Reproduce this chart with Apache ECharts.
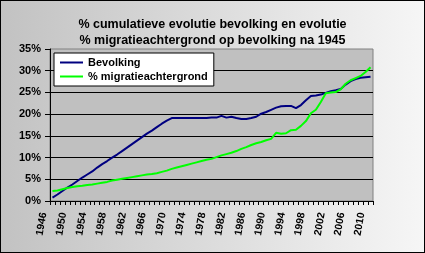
<!DOCTYPE html>
<html><head><meta charset="utf-8">
<script src="https://cdn.jsdelivr.net/npm/echarts@6/dist/echarts.min.js"></script>
<style>
html,body{margin:0;padding:0;}
#wrap{position:relative;width:425px;height:253px;background:linear-gradient(to right,#c2c2c2,#f6f6f6);}
#c{position:absolute;left:0;top:0;width:425px;height:253px;}
#bd{position:absolute;left:0;top:0;width:425px;height:253px;box-sizing:border-box;border:1px solid #000;pointer-events:none;}
</style></head><body>
<div id="wrap"><div id="c"></div><div id="bd"></div></div>
<script>
const titleText = '% cumulatieve evolutie bevolking en evolutie\n% migratieachtergrond op bevolking na 1945';
const years = [];
for (let y = 1946; y <= 2010; y++) years.push(String(y));
const seriesNames = ['Bevolking', '% migratieachtergrond'];
const bevolking = [
  0.8, 1.5, 2.3, 3.1, 3.8, 4.6, 5.4, 6.1, 6.8, 7.7,
  8.5, 9.2, 10.0, 10.7, 11.5, 12.3, 13.1, 13.9, 14.7, 15.5,
  16.2, 17.0, 17.8, 18.5, 19.1, 19.1, 19.1, 19.1, 19.1, 19.1,
  19.1, 19.1, 19.2, 19.2, 19.6, 19.2, 19.4, 19.1, 18.9, 18.9,
  19.1, 19.4, 20.1, 20.5, 21.0, 21.5, 21.8, 21.9, 21.9, 21.4,
  22.1, 23.2, 24.2, 24.3, 24.5, 24.9, 25.3, 25.5, 25.8, 26.8,
  27.6, 28.1, 28.4, 28.5, 28.6
];
const migratie = [
  2.3, 2.4, 2.7, 3.0, 3.2, 3.4, 3.5, 3.7, 3.8, 4.0,
  4.2, 4.4, 4.7, 4.9, 5.1, 5.3, 5.5, 5.7, 5.9, 6.1,
  6.2, 6.4, 6.7, 7.0, 7.4, 7.7, 8.0, 8.3, 8.6, 8.9,
  9.2, 9.5, 9.7, 10.1, 10.5, 10.8, 11.1, 11.5, 12.0, 12.4,
  12.9, 13.3, 13.6, 14.0, 14.3, 15.7, 15.5, 15.6, 16.3, 16.4,
  17.3, 18.4, 20.2, 21.0, 22.8, 24.8, 25.0, 25.1, 25.7, 27.0,
  27.8, 28.3, 28.8, 29.7, 30.8
];
const yTicks = { min: 0, max: 35, interval: 5 };

const chart = echarts.init(document.getElementById('c'), null, { renderer: 'canvas' });
const font = 'Liberation Sans, Arial, sans-serif';
chart.setOption({
  backgroundColor: 'transparent',
  animation: false,
  title: {
    text: titleText,
    left: 'center', top: 12,
    textStyle: { fontFamily: font, fontWeight: 'bold', fontSize: 12.5, lineHeight: 16, color: '#000' }
  },
  legend: {
    orient: 'vertical', left: 54, top: 53,
    padding: [4, 6, 4, 6], itemGap: 3, itemWidth: 23, itemHeight: 2, icon: 'rect',
    backgroundColor: '#fff', borderColor: '#000', borderWidth: 1,
    textStyle: { fontFamily: font, fontWeight: 'bold', fontSize: 11, color: '#000' },
    data: seriesNames
  },
  grid: {
    left: 50, right: 52, top: 49, bottom: 52,
    show: true, backgroundColor: '#c0c0c0', borderColor: '#808080', borderWidth: 1
  },
  xAxis: {
    type: 'category', data: years, boundaryGap: true,
    axisLine: { lineStyle: { color: '#000' } },
    axisTick: { show: true, interval: 0, length: 4, lineStyle: { color: '#000' } },
    axisLabel: {
      interval: 3, rotate: 80, margin: 13, verticalAlign: 'bottom', lineHeight: 18,
      fontFamily: font, fontWeight: 'bold', fontSize: 10.5, color: '#000'
    },
    splitLine: { show: false }
  },
  yAxis: {
    type: 'value', min: yTicks.min, max: yTicks.max, interval: yTicks.interval,
    axisLine: { show: true, lineStyle: { color: '#000' } },
    axisTick: { show: true, length: 5, lineStyle: { color: '#000' } },
    axisLabel: { formatter: '{value}%', margin: 9, fontFamily: font, fontWeight: 'bold', fontSize: 11, color: '#000' },
    splitLine: { show: true, showMaxLine: false, lineStyle: { color: '#000', width: 1 } }
  },
  series: [
    { name: seriesNames[0], type: 'line', data: bevolking, symbol: 'none',
      lineStyle: { color: '#000080', width: 2 }, itemStyle: { color: '#000080' } },
    { name: seriesNames[1], type: 'line', data: migratie, symbol: 'none',
      lineStyle: { color: '#00ff00', width: 2 }, itemStyle: { color: '#00ff00' } }
  ]
});
</script></body></html>
